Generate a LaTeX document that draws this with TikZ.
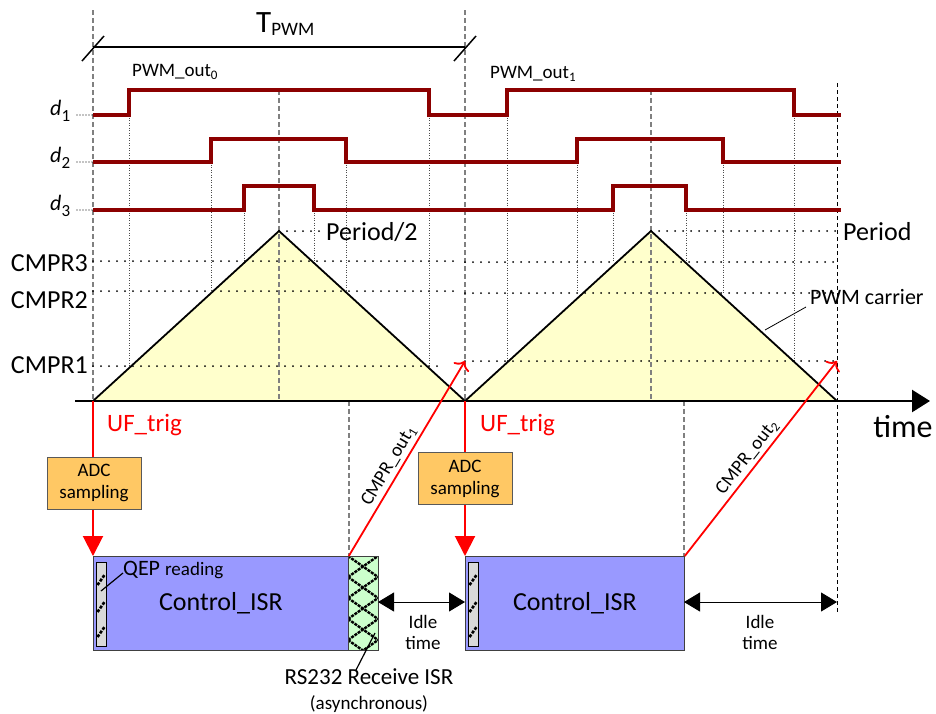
\documentclass[tikz,border=0pt]{standalone}
\usepackage{fontspec}
\setmainfont{Carlito}
\usetikzlibrary{arrows.meta}
\newcommand{\fsz}[1]{\fontsize{#1}{#1}\selectfont}
\definecolor{dred}{RGB}{140,0,0}
\definecolor{tri}{RGB}{255,255,204}
\definecolor{adc}{RGB}{255,200,100}
\definecolor{isr}{RGB}{153,153,255}
\definecolor{rsg}{RGB}{204,255,204}
\definecolor{qep}{RGB}{217,217,217}
\definecolor{dgray}{RGB}{128,128,128}
\begin{document}
\begin{tikzpicture}[x=1pt,y=-1pt,
 guide/.style={color=dgray, line width=1.1pt, dash pattern=on 5pt off 3pt},
 edgeguide/.style={black, line width=1pt, dash pattern=on 4pt off 3pt},
 fine/.style={black!70, line width=0.6pt, dash pattern=on 1pt off 1.5pt},
 lvl/.style={black, line width=2pt, line cap=round, dash pattern=on 0pt off 8pt},
 lead/.style={black, line width=1.3pt, line cap=round, dash pattern=on 0pt off 3pt},
 sig/.style={dred, line width=3.2pt},
 trig/.style={red, line width=2pt, -{Triangle[length=20pt,width=20pt]}},
 cmpout/.style={red, line width=1.8pt, -{To[length=8pt,width=18pt]}},
 idle/.style={black, line width=1pt, {Triangle[length=16pt,width=19pt]}-{Triangle[length=16pt,width=19pt]}},
 leader/.style={black, line width=1.2pt},
 hatch/.style={black, line width=2.4pt, dash pattern=on 3pt off 1pt},
 qmark/.style={black, line width=2.6pt, dash pattern=on 3pt off 1.5pt},
 lab/.style={inner sep=0pt},
 box/.style={inner sep=0pt, anchor=north west, draw=black!75, line width=0.8pt}
]
\useasboundingbox (0,0) rectangle (936,713);

% ---- carrier fill
\fill[tri] (93,401) -- (279,231) -- (465,401) -- (651,231) -- (837,401) -- cycle;

% ---- guides
\draw[guide] (93,10) -- (93,401);
\draw[guide] (465,10) -- (465,401);
\draw[guide] (279,90) -- (279,401);
\draw[guide] (651,90) -- (651,401);
\draw[guide] (349,401) -- (349,556);
\draw[guide] (684,401) -- (684,556);
\draw[edgeguide] (837,83) -- (837,612);

% ---- compare levels
\draw[lvl] (93,261) -- (458,261);
\draw[lvl] (93,291) -- (458,291);
\draw[lvl] (93,366) -- (438,366);
\draw[lvl] (465,262) -- (835,262);
\draw[lvl] (465,293) -- (835,293);
\draw[lvl] (465,361) -- (835,361);
\draw[lvl] (279,231) -- (322,231);
\draw[lvl] (651,231) -- (837,231);

% ---- fine verticals
\foreach \x/\a/\b in {129/115/366, 211/162/291, 244/210/261, 314/210/261, 346/162/291, 429/115/366,
                     507/115/361, 577/162/293, 613/210/262, 686/210/262, 723/162/293, 794/115/361}
  \draw[fine] (\x,\a) -- (\x,\b);

% ---- carrier outline
\draw[black, line width=1.8pt, line join=miter] (93,401) -- (279,231) -- (465,401) -- (651,231) -- (837,401);

% ---- PWM signals
\draw[sig] (93,115) -| (129,90) -| (429,115) -| (507,90) -| (794,115) -- (841,115);
\draw[sig] (93,162) -| (211,139) -| (346,162) -| (577,139) -| (723,162) -- (841,162);
\draw[sig] (93,210) -| (244,186) -| (314,210) -| (613,186) -| (686,210) -- (841,210);

% ---- signal labels
\node[lab, anchor=base west] (d1) at (50,115) {\fsz{22}\textit{d}\raisebox{-6pt}{\fsz{17}1}};
\node[lab, anchor=base west] (d2) at (50,162) {\fsz{22}\textit{d}\raisebox{-6pt}{\fsz{17}2}};
\node[lab, anchor=base west] (d3) at (50,210) {\fsz{22}\textit{d}\raisebox{-6pt}{\fsz{17}3}};
\coordinate (s1) at (93,115); \coordinate (s2) at (93,162); \coordinate (s3) at (93,210);
\draw[lead] (77,115) -- (s1);
\draw[lead] (77,162) -- (s2);
\draw[lead] (77,210) -- (s3);

% ---- T_PWM
\coordinate (tp1) at (93,47); \coordinate (tp2) at (465,47);
\draw[black, line width=1.5pt] (tp1) -- (tp2);
\draw[black, line width=1.5pt] (82,61) -- (104,36);
\draw[black, line width=1.5pt] (454,61) -- (476,36);
\node[lab, anchor=base west] (tpwm) at (256,32) {\fsz{31}T\raisebox{-3pt}{\fsz{19}PWM}};
\node[lab, anchor=base west] (out0) at (132,76) {\fsz{19}PWM\_out\raisebox{-3pt}{\fsz{13}0}};
\node[lab, anchor=base west] (out1) at (490,78) {\fsz{19}PWM\_out\raisebox{-3pt}{\fsz{13}1}};

% ---- CMPR labels
\node[lab, anchor=east] (c3) at (88,263) {\fsz{26}CMPR3};
\node[lab, anchor=east] (c2) at (88,300) {\fsz{26}CMPR2};
\node[lab, anchor=east] (c1) at (88,365) {\fsz{26}CMPR1};
\node[lab, anchor=west] (p2) at (326,232) {\fsz{26}Period/2};
\node[lab, anchor=west] (p1) at (843,232) {\fsz{26}Period};

% ---- PWM carrier label
\node[lab, anchor=base west] (carrier) at (810,304) {\fsz{22}PWM carrier};
\draw[black, line width=0.8pt] (765,330) -- (806,307);

% ---- time axis
\coordinate (ax0) at (75,401); \coordinate (ax1) at (930,401);
\draw[black, line width=2.5pt, -{Triangle[length=18pt,width=22pt]}] (ax0) -- (ax1);
\node[lab] (time) at (903,427) {\fsz{32}time};

% ---- UF trig
\node[lab, anchor=base west, text=red] (uf1) at (107,431) {\fsz{25}UF\_trig};
\node[lab, anchor=base west, text=red] (uf2) at (480,431) {\fsz{25}UF\_trig};
\coordinate (u1) at (93,401); \coordinate (u2) at (465,401);

% ---- ISR boxes
\node[box, fill=isr, minimum width=255pt, minimum height=94pt] (isr1) at (93,556) {};
\node[font=\fsz{26}] at (isr1.center) {Control\_ISR};
\node[box, fill=isr, minimum width=219pt, minimum height=94pt] (isr2) at (465,556) {};
\node[font=\fsz{26}] at (isr2.center) {Control\_ISR};
\node[box, fill=rsg, minimum width=30pt, minimum height=94pt] (rs) at (348,556) {};
\begin{scope}
  \clip (348,556) rectangle (378,650);
  \foreach \k in {-1,...,4} {
    \draw[hatch] (348,{556+21*\k}) -- (378,{577+21*\k});
    \draw[hatch] (348,{577+21*\k}) -- (378,{556+21*\k});
  }
\end{scope}
\draw[black!75, line width=0.8pt] (rs.north west) rectangle (rs.south east);

% ---- QEP strips
\node[box, draw=black, fill=qep, minimum width=10pt, minimum height=84pt] (qep1) at (96,562) {};
\node[box, draw=black, fill=qep, minimum width=10pt, minimum height=84pt] (qep2) at (468,562) {};
\foreach \y in {580,607,632} {
  \draw[qmark] (97.5,{\y+5}) -- (104.5,{\y-5});
  \draw[qmark] (469.5,{\y+5}) -- (476.5,{\y-5});
}
\node[lab, anchor=base west] (qeplab) at (123,575) {\fsz{22}QEP \fsz{19}reading};
\draw[leader] (101,591) -- (123,573);

% ---- ADC boxes and trigger arrows
\draw[trig] (u1) -- (isr1.north west);
\draw[trig] (u2) -- (isr2.north west);
\node[inner sep=0pt, draw=black!65, line width=0.8pt, fill=adc, minimum width=94pt, minimum height=52pt, align=center,
      font=\fsz{19}, execute at begin node=\setlength{\baselineskip}{22pt}] (adc1) at (94,483) {ADC\\sampling};
\node[inner sep=0pt, draw=black!65, line width=0.8pt, fill=adc, minimum width=94pt, minimum height=52pt, align=center,
      font=\fsz{19}, execute at begin node=\setlength{\baselineskip}{22pt}] (adc2) at (465,478.5) {ADC\\sampling};

% ---- CMPR_out arrows
\coordinate (ce1) at (465,361); \coordinate (ce2) at (837,361);
\draw[cmpout] (isr1.north east) -- node[pos=0.43, sloped, above=3pt, inner sep=0pt, text=black] (co1)
  {\fsz{19}CMPR\_out\raisebox{-3pt}{\fsz{13}1}} (ce1);
\draw[cmpout] (isr2.north east) -- node[pos=0.47, sloped, above=3pt, inner sep=0pt, text=black] (co2)
  {\fsz{19}CMPR\_out\raisebox{-3pt}{\fsz{13}2}} (ce2);

% ---- idle time
\coordinate (i1a) at (378,602); \coordinate (i1b) at (465,602);
\coordinate (i2a) at (684,602); \coordinate (i2b) at (837,602);
\draw[idle] (i1a) -- (i1b);
\draw[idle] (i2a) -- (i2b);
\node[lab, align=center, font=\fsz{19}, execute at begin node=\setlength{\baselineskip}{21pt}] (idl1) at (423,632) {Idle\\time};
\node[lab, align=center, font=\fsz{19}, execute at begin node=\setlength{\baselineskip}{21pt}] (idl2) at (760,632) {Idle\\time};

% ---- RS232 label
\node[lab] (rslab) at (369,677) {\fsz{23}RS232 Receive ISR};
\node[lab] (async) at (369,704) {\fsz{19}(asynchronous)};
\draw[leader] (375,633) -- (356,670);
\end{tikzpicture}
\end{document}
